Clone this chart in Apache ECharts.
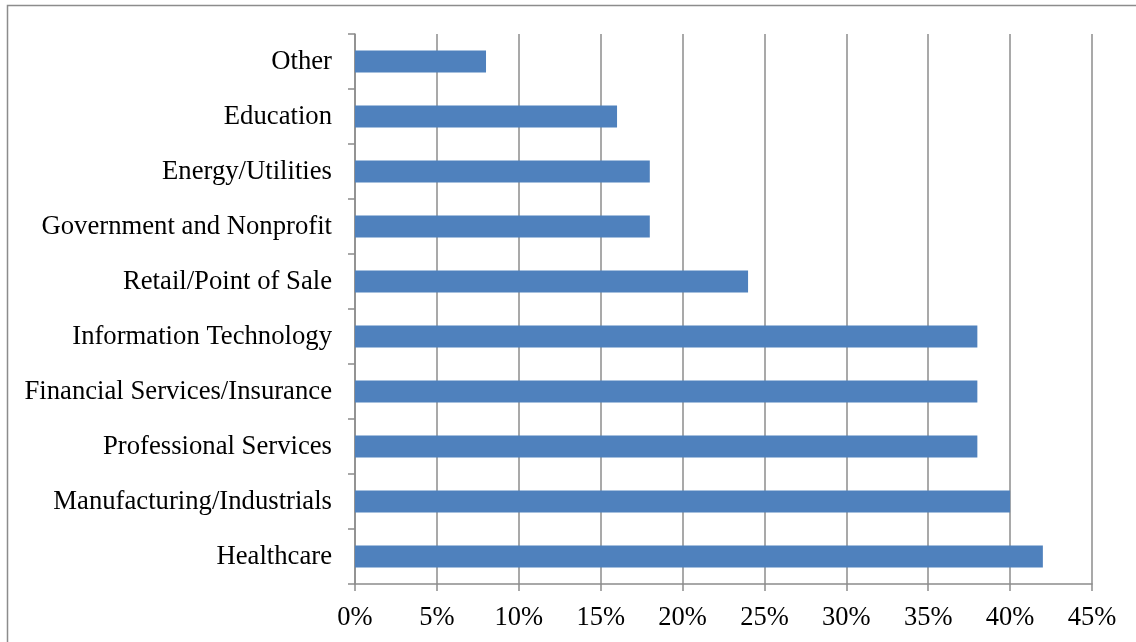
<!DOCTYPE html>
<html>
<head>
<meta charset="utf-8">
<script src="https://cdn.jsdelivr.net/npm/echarts@6/dist/echarts.min.js"></script>
<style>
html,body{margin:0;padding:0;background:#fff;}
#chart{width:1136px;height:642px;}
</style>
</head>
<body>
<div id="chart"></div>
<script>
const categories = ["Healthcare","Manufacturing/Industrials","Professional Services","Financial Services/Insurance","Information Technology","Retail/Point of Sale","Government and Nonprofit","Energy/Utilities","Education","Other"];
const values = [42, 40, 38, 38, 38, 24, 18, 18, 16, 8];
const xTicks = {min: 0, max: 45, interval: 5};

const chart = echarts.init(document.getElementById('chart'), null, {renderer: 'canvas'});
const gray = '#8c8c8c';
const font = '"Liberation Serif", "Times New Roman", serif';
chart.setOption({
  animation: false,
  textStyle: {fontFamily: font},
  graphic: [{
    type: 'rect', shape: {x: 7.5, y: 5.5, width: 1200, height: 700},
    style: {fill: 'none', stroke: gray, lineWidth: 1.5}, silent: true
  }],
  grid: {left: 355, right: 44, top: 34, bottom: 58, containLabel: false},
  xAxis: {
    type: 'value', min: xTicks.min, max: xTicks.max, interval: xTicks.interval,
    axisLine: {show: true, lineStyle: {color: gray, width: 1.5}},
    axisTick: {show: true, length: 7, lineStyle: {color: gray, width: 1.5}},
    splitLine: {show: true, lineStyle: {color: gray, width: 1.5}},
    axisLabel: {formatter: v => v + '%', color: '#000', fontSize: 26.5, fontFamily: font, margin: 21}
  },
  yAxis: {
    type: 'category', data: categories,
    axisLine: {show: true, lineStyle: {color: gray, width: 1.5}},
    axisTick: {show: true, length: 7, lineStyle: {color: gray, width: 1.5}},
    splitLine: {show: false},
    axisLabel: {color: '#000', fontSize: 26.7, fontFamily: font, margin: 23, padding: [4, 0, 0, 0]}
  },
  series: [{
    type: 'bar', data: values, barCategoryGap: '60%',
    itemStyle: {color: '#4F81BD'}
  }]
});
</script>
</body>
</html>
